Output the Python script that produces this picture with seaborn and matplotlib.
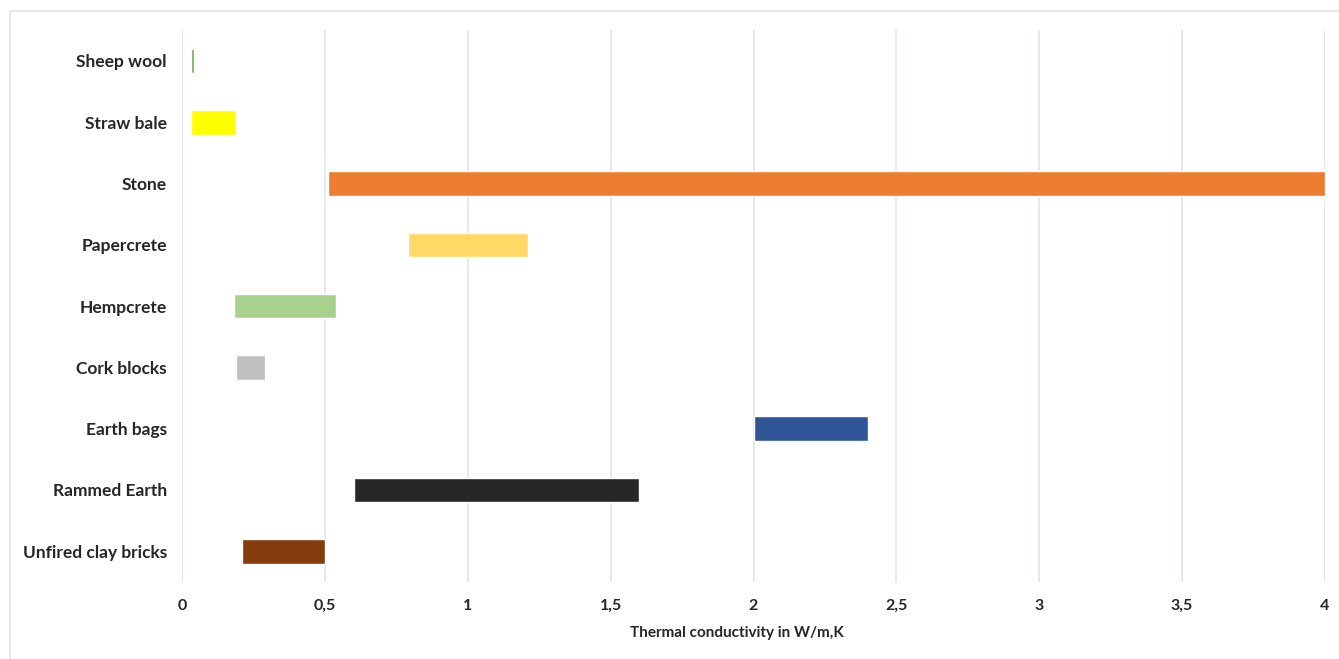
import matplotlib
matplotlib.use('Agg')
import matplotlib.pyplot as plt
import matplotlib.lines as mlines
import seaborn as sns
import pandas as pd

# data: thermal conductivity ranges (W/m,K)
materials = ['Sheep wool', 'Straw bale', 'Stone', 'Papercrete', 'Hempcrete',
             'Cork blocks', 'Earth bags', 'Rammed Earth', 'Unfired clay bricks']
k_min = [0.03, 0.03, 0.51, 0.79, 0.18, 0.19, 2.0, 0.6, 0.21]
k_max = [0.04, 0.19, 4.0, 1.21, 0.54, 0.29, 2.4, 1.6, 0.50]
bar_colors = ['#70AD47', '#FFFF00', '#ED7D31', '#FFD966', '#A9D18E',
              '#BFBFBF', '#2F5597', '#262626', '#843C0C']
x_ticks = [0, 0.5, 1, 1.5, 2, 2.5, 3, 3.5, 4]
x_tick_labels = ['0', '0,5', '1', '1,5', '2', '2,5', '3', '3,5', '4']

df = pd.DataFrame({'material': materials, 'k_min': k_min, 'k_max': k_max})

sns.set_theme(style='white')
plt.rcParams['font.family'] = ['Lato', 'DejaVu Sans']

fig = plt.figure(figsize=(13.39, 6.59), dpi=100)
ax = fig.add_axes([0.136, 0.117, 0.8535, 0.837])

sns.barplot(data=df, x='k_max', y='material', hue='material',
            palette=bar_colors, legend=False, width=0.4,
            orient='h', ax=ax, saturation=1)

# turn bars into floating ranges
for patch, lo, hi in zip(ax.patches, k_min, k_max):
    patch.set_x(lo)
    patch.set_width(hi - lo)

ax.set_xlim(0, 4)
ax.set_ylim(len(materials) - 0.5, -0.5)
ax.set_xticks(x_ticks)
ax.set_xticklabels(x_tick_labels, fontsize=11.5, fontweight='bold')
for lab in ax.get_yticklabels():
    lab.set_fontsize(12.5)
    lab.set_fontweight('bold')
ax.tick_params(axis='x', length=0, pad=12)
ax.tick_params(axis='y', length=0, pad=11)
ax.grid(axis='x', color='#E3E6EE', linewidth=1.3)
ax.set_axisbelow(True)
for s in ax.spines.values():
    s.set_visible(False)

ax.set_ylabel('')
ax.set_xlabel('Thermal conductivity in W/m,K', fontsize=11,
              fontweight='bold', labelpad=8)
ax.xaxis.set_label_coords(0.485, -0.08)

# chart frame lines (top and left)
fig.add_artist(mlines.Line2D([0.0075, 1], [0.983, 0.983], color='#E3E3E8',
                             linewidth=1.2, transform=fig.transFigure))
fig.add_artist(mlines.Line2D([0.0075, 0.0075], [0, 0.983], color='#E3E3E8',
                             linewidth=1.2, transform=fig.transFigure))

fig.savefig('out.png', dpi=100)
